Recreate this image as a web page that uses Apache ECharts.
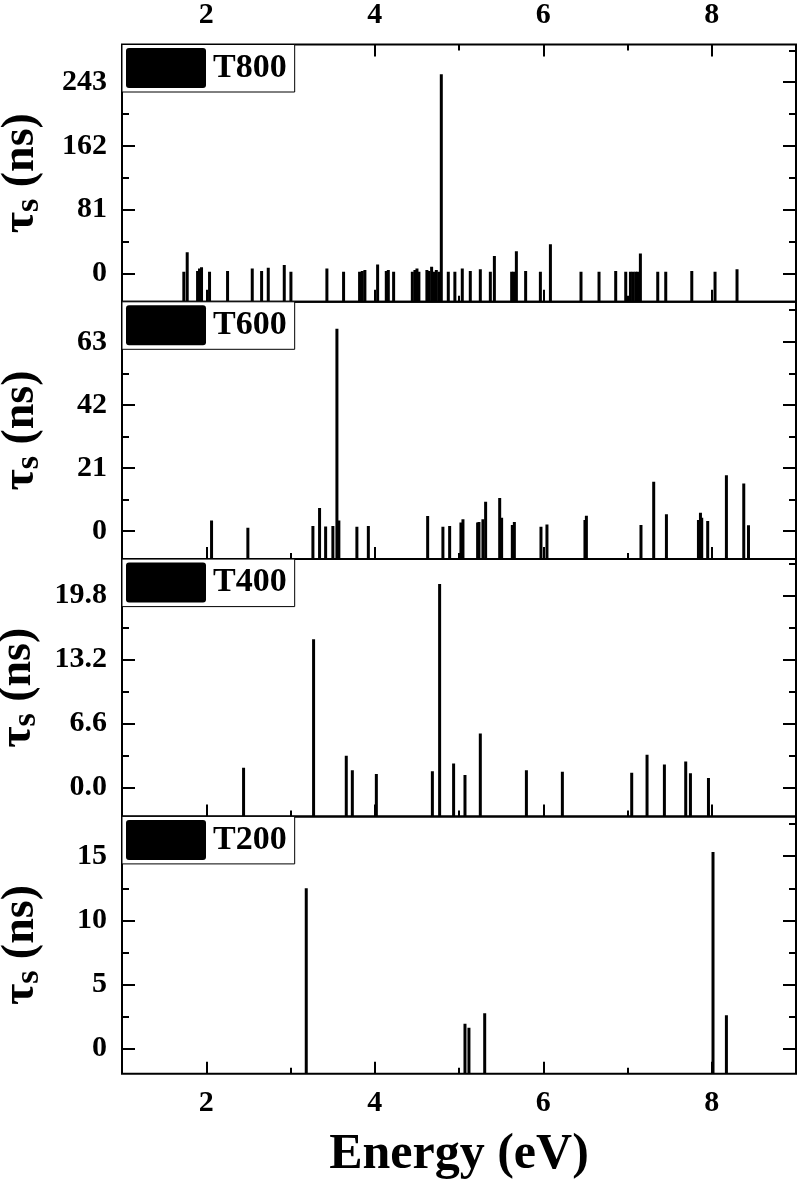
<!DOCTYPE html>
<html>
<head>
<meta charset="utf-8">
<script src="https://cdn.jsdelivr.net/npm/echarts@6/dist/echarts.min.js"></script>
<style>
html, body { margin: 0; padding: 0; background: #fff; }
#chart { width: 800px; height: 1188px; }
</style>
</head>
<body>
<div id="chart"></div>
<script>
// ---- data ----
const panelNames = ['T800', 'T600', 'T400', 'T200']

const energyT800 = [1.734, 1.774, 1.897, 1.920, 1.944, 2.039, 2.253, 2.546, 2.657, 2.736,
  2.926, 3.005, 3.432, 3.630, 3.820, 3.852, 3.883, 4.034, 4.137, 4.161,
  4.224, 4.446, 4.477, 4.501, 4.524, 4.619, 4.643, 4.675, 4.707, 4.731,
  4.762, 4.790, 4.873, 4.951, 5.039, 5.134, 5.253, 5.372, 5.420, 5.625,
  5.649, 5.681, 5.791, 5.966, 6.085, 6.448, 6.662, 6.860, 6.979, 7.035,
  7.066, 7.097, 7.121, 7.153, 7.359, 7.454, 7.763, 8.039, 8.300]
const tauT800 = [2, 26.6, 3, 6, 7.6, 2, 3, 6, 3, 7,
  10.5, 2, 6, 2, 2, 3, 4, 11, 3, 4,
  2, 2, 4, 6, 2, 4, 3, 8.4, 2, 4,
  2, 253, 2, 2, 6, 3, 5, 2, 22, 2,
  2, 28, 3, 2, 37, 2, 2, 3, 2, 2,
  2, 2, 2, 25, 2, 2, 3, 2, 5]

const energyT600 = [2.063, 2.494, 3.266, 3.345, 3.417, 3.503, 3.551, 3.574, 3.788, 3.924,
  4.628, 4.809, 4.889, 5.023, 5.047, 5.221, 5.237, 5.284, 5.316, 5.483,
  5.506, 5.633, 5.657, 5.973, 6.044, 6.495, 6.512, 7.160, 7.311, 7.462,
  7.842, 7.866, 7.881, 7.952, 8.174, 8.380, 8.436]
const tauT600 = [3.5, 1.1, 1.7, 7.7, 1.5, 1.7, 67.3, 3.5, 1.4, 1.7,
  5, 1.4, 1.7, 2.8, 3.9, 2.8, 3, 3.9, 9.7, 11,
  4.4, 2, 3, 1.4, 2.2, 3.7, 5.1, 2, 16.4, 5.6,
  3.7, 6.1, 4.4, 3.3, 18.6, 15.8, 1.9]

const energyT400 = [2.443, 3.274, 3.662, 3.734, 4.019, 4.684, 4.770, 4.936, 5.071, 5.253,
  5.800, 6.227, 7.050, 7.232, 7.438, 7.691, 7.747, 7.961]
const tauT400 = [2.06, 15.3, 3.3, 1.8, 1.4, 1.7, 21.0, 2.5, 1.3, 5.6,
  1.8, 1.65, 1.55, 3.4, 2.4, 2.7, 1.5, 1.0]

const energyT200 = [3.187, 5.071, 5.118, 5.305, 8.015, 8.174]
const tauT200 = [12.5, 1.95, 1.64, 2.76, 15.33, 2.6]

// ticks
const xMajorTicks = [2, 4, 6, 8]
const xMinorTicks = [3, 5, 7]
const yMajorT800 = [0, 81, 162, 243]
const yMinorT800 = [40.5, 121.5, 202.5, 283.5]
const yMajorT600 = [0, 21, 42, 63]
const yMinorT600 = [10.5, 31.5, 52.5, 73.5]
const yMajorT400 = [0, 6.6, 13.2, 19.8]
const yMinorT400 = [3.3, 9.9, 16.5, 23.1]
const yMajorT200 = [0, 5, 10, 15]
const yMinorT200 = [2.5, 7.5, 12.5, 17.5]

const panels = [
  { energy: energyT800, tau: tauT800, major: yMajorT800, minor: yMinorT800, range: [-36.3, 291], dec: 0 },
  { energy: energyT600, tau: tauT600, major: yMajorT600, minor: yMinorT600, range: [-9.35, 76.3], dec: 0 },
  { energy: energyT400, tau: tauT400, major: yMajorT400, minor: yMinorT400, range: [-2.96, 23.57], dec: 1 },
  { energy: energyT200, tau: tauT200, major: yMajorT200, minor: yMinorT200, range: [-1.95, 18.1], dec: 0 },
]

const FONT = '"Liberation Serif", "Times New Roman", serif'
const gridTop = [44.5, 301.8, 559.1, 816.4]
const gridHeight = 257.3

const chart = echarts.init(document.getElementById('chart'), null, { renderer: 'canvas' })

const grids = []
const xAxes = []
const yAxes = []
const series = []
const legends = []

function tickAxis(extra) {
  return Object.assign({
    type: 'value',
    axisLine: { show: false, onZero: false },
    splitLine: { show: false },
    axisLabel: { show: false },
  }, extra)
}

function renderStick(params, api) {
  const top = api.coord([api.value(0), api.value(1)])
  const cs = params.coordSys
  const bottom = cs.y + cs.height
  return {
    type: 'rect',
    shape: { x: top[0] - 1.5, y: top[1], width: 3, height: bottom - top[1] },
    style: { fill: '#000' },
  }
}

panels.forEach((p, i) => {
  grids.push({
    left: 122, right: 4, top: gridTop[i], height: gridHeight,
    outerBoundsMode: 'none', containLabel: false,
    show: true, borderColor: '#000', borderWidth: 2, backgroundColor: 'transparent',
  })

  const xMain = xAxes.length
  xAxes.push(tickAxis({
    gridIndex: i, position: 'bottom', min: 1, max: 9,
    axisTick: { inside: true, length: 12, customValues: xMajorTicks, lineStyle: { color: '#000', width: 2 } },
    axisLabel: {
      show: i === 3, customValues: xMajorTicks, margin: 15,
      fontSize: 30, fontWeight: 'bold', fontFamily: FONT, color: '#000',
    },
    name: i === 3 ? 'Energy (eV)' : '',
    nameLocation: 'middle', nameGap: 56,
    nameTextStyle: { fontSize: 50, fontWeight: 'bold', fontFamily: FONT, color: '#000' },
  }))
  xAxes.push(tickAxis({
    gridIndex: i, position: 'bottom', min: 1, max: 9,
    axisTick: { inside: true, length: 6, customValues: xMinorTicks, lineStyle: { color: '#000', width: 2 } },
  }))
  if (i === 0) {
    xAxes.push(tickAxis({
      gridIndex: i, position: 'top', min: 1, max: 9,
      axisTick: { inside: true, length: 12, customValues: xMajorTicks, lineStyle: { color: '#000', width: 2 } },
      axisLabel: {
        show: true, customValues: xMajorTicks, margin: 14,
        fontSize: 30, fontWeight: 'bold', fontFamily: FONT, color: '#000',
      },
    }))
    xAxes.push(tickAxis({
      gridIndex: i, position: 'top', min: 1, max: 9,
      axisTick: { inside: true, length: 6, customValues: xMinorTicks, lineStyle: { color: '#000', width: 2 } },
    }))
  }

  const yMain = yAxes.length
  yAxes.push(tickAxis({
    gridIndex: i, position: 'left', min: p.range[0], max: p.range[1],
    axisTick: { inside: true, length: 13, customValues: p.major, lineStyle: { color: '#000', width: 2 } },
    axisLabel: {
      show: true, customValues: p.major, margin: 15,
      formatter: (v) => Number(v).toFixed(p.dec),
      fontSize: 30, fontWeight: 'bold', fontFamily: FONT, color: '#000',
    },
    name: '{t|τ}{s|s}{t| (ns)}',
    nameLocation: 'middle', nameRotate: 90, nameGap: 76,
    nameTextStyle: {
      fontFamily: FONT, fontWeight: 'bold', color: '#000',
      rich: {
        t: { fontSize: 46, fontWeight: 'bold', fontFamily: FONT, color: '#000', lineHeight: 50 },
        s: { fontSize: 34, fontWeight: 'bold', fontFamily: FONT, color: '#000', lineHeight: 34, verticalAlign: 'bottom' },
      },
    },
  }))
  yAxes.push(tickAxis({
    gridIndex: i, position: 'left', min: p.range[0], max: p.range[1],
    axisTick: { inside: true, length: 7, customValues: p.minor, lineStyle: { color: '#000', width: 2 } },
  }))
  yAxes.push(tickAxis({
    gridIndex: i, position: 'right', min: p.range[0], max: p.range[1],
    axisTick: { inside: true, length: 13, customValues: p.major, lineStyle: { color: '#000', width: 2 } },
  }))
  yAxes.push(tickAxis({
    gridIndex: i, position: 'right', min: p.range[0], max: p.range[1],
    axisTick: { inside: true, length: 7, customValues: p.minor, lineStyle: { color: '#000', width: 2 } },
  }))

  series.push({
    type: 'custom',
    name: panelNames[i],
    xAxisIndex: xMain,
    yAxisIndex: yMain,
    data: p.energy.map((e, k) => [e, p.tau[k]]),
    renderItem: renderStick,
    itemStyle: { color: '#000' },
    clip: true,
  })

  legends.push({
    data: [panelNames[i]],
    left: 122, top: gridTop[i],
    icon: 'path://M3,0 L77,0 Q80,0 80,3 L80,37 Q80,40 77,40 L3,40 Q0,40 0,37 L0,3 Q0,0 3,0 Z',
    itemWidth: 80, itemHeight: 40, itemGap: 0,
    padding: [3.5, 8, 4, 4],
    borderColor: '#000', borderWidth: 1, backgroundColor: '#fff',
    selectedMode: false,
    textStyle: { fontSize: 34, fontWeight: 'bold', fontFamily: FONT, color: '#000', padding: [0, 0, 0, 2] },
  })
})

chart.setOption({
  backgroundColor: '#fff',
  animation: false,
  grid: grids,
  xAxis: xAxes,
  yAxis: yAxes,
  legend: legends,
  series: series,
})
</script>
</body>
</html>
